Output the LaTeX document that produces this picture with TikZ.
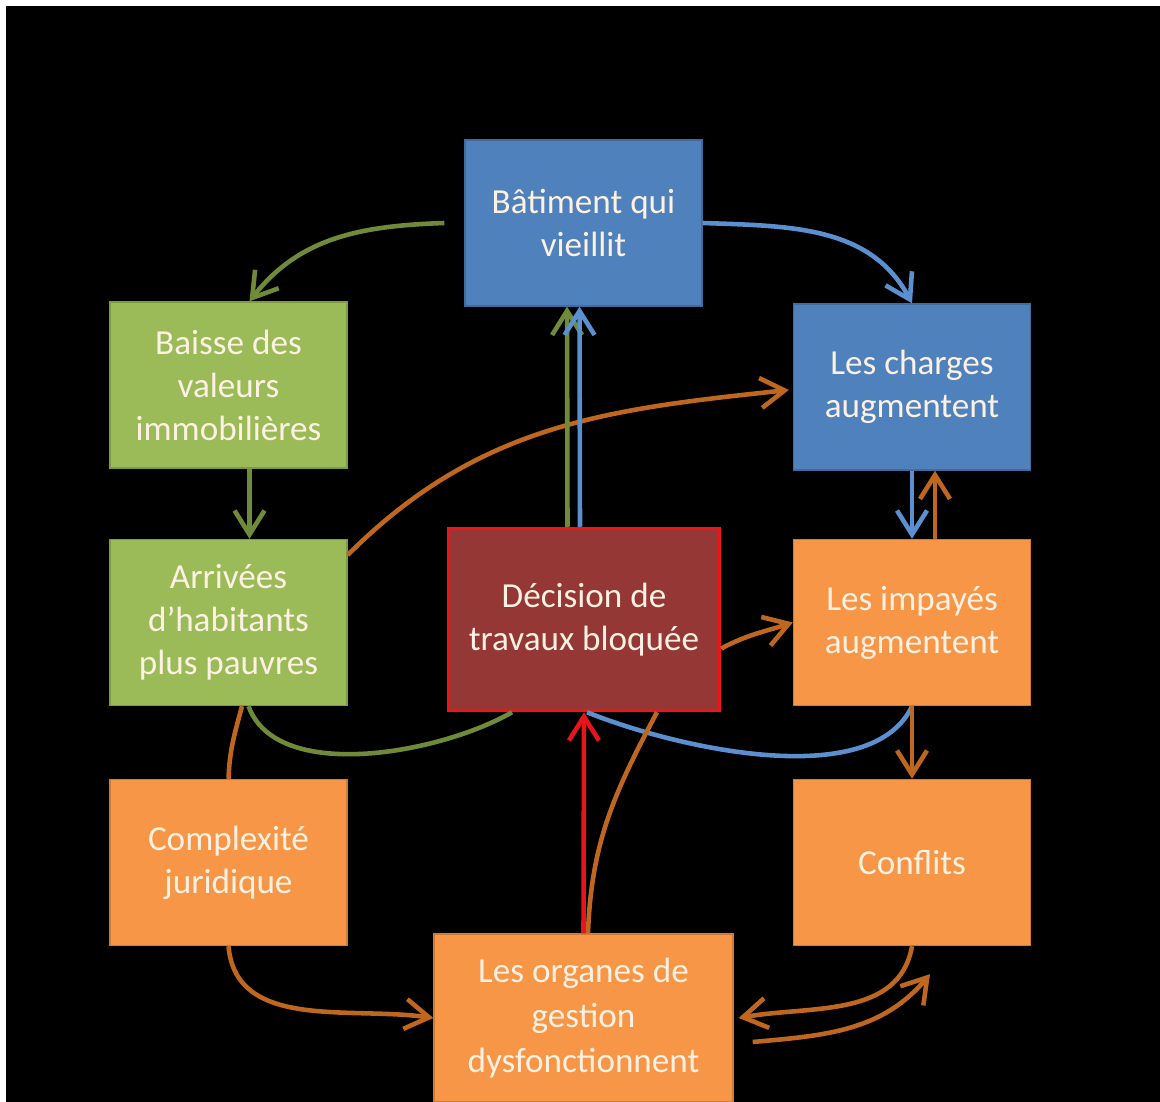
\documentclass[tikz,border=0pt]{standalone}
\usepackage{fontspec}
\setmainfont{Carlito}
\usepackage{tikz}
\usetikzlibrary{arrows.meta, positioning}
\usepackage{xcolor}

\definecolor{fillblue}{HTML}{4F81BD}
\definecolor{edgeblue}{HTML}{3F6B9E}
\definecolor{fillgreen}{HTML}{9BBB59}
\definecolor{edgegreen}{HTML}{7D9A45}
\definecolor{fillorange}{HTML}{F79646}
\definecolor{edgeorange}{HTML}{D07A36}
\definecolor{fillred}{HTML}{953735}
\definecolor{edgered}{HTML}{F01418}
\definecolor{boxtext}{HTML}{FCF1E2}
\definecolor{lgreen}{HTML}{6F8B3A}
\definecolor{lblue}{HTML}{5A8FD0}
\definecolor{lorange}{HTML}{BF661F}
\definecolor{lred}{HTML}{E8141C}

\begin{document}
\begin{tikzpicture}[
      x=0.02cm, y=0.02cm,
      box/.style={draw, line width=0.8pt, align=center, text=boxtext, inner sep=0pt,
        font=\fontsize{20}{24.5}\selectfont, minimum width=4.74cm, minimum height=3.32cm},
      link/.style={line width=2.6pt, -{Straight Barb[length=4.8mm, width=6mm]}},
      plain/.style={line width=2.6pt}
    ]

    % Background
    \fill[white] (0,0) rectangle (1160,1102);
    \fill[black] (6,0) rectangle (1160,1096);
    \useasboundingbox (0,0) rectangle (1160,1102);

    % Nodes
    \node[box, fill=fillblue, draw=edgeblue] (batiment) at (583.5,879) {Bâtiment qui\\vieillit};

    \node[box, fill=fillblue, draw=edgeblue] (charges) at (912,715) {Les charges\\augmentent};

    \node[box, fill=fillgreen, draw=edgegreen] (baisse) at (228.5,717) {Baisse des\\valeurs\\immobilières};

    \node[box, fill=fillgreen, draw=edgegreen] (arrivees) at (228.5,479.5) {Arrivées\\d’habitants\\plus pauvres};

    \node[box, fill=fillred, draw=edgered, line width=2pt, minimum width=5.42cm, minimum height=3.64cm] (decision) at (584,482.5) {Décision de\\travaux bloquée};

    \node[box, fill=fillorange, draw=edgeorange] (impayes) at (912,479.5) {Les impayés\\augmentent};

    \node[box, fill=fillorange, draw=edgeorange] (complexite) at (228.5,239.5) {Complexité\\juridique};

    \node[box, fill=fillorange, draw=edgeorange] (conflits) at (912,239.5) {Conflits};

    \node[box, fill=fillorange, draw=edgeorange, minimum width=5.98cm, minimum height=3.36cm, font=\fontsize{20}{25.5}\selectfont] (organes) at (583.5,84) {Les organes de\\gestion\\dysfonctionnent};

    % Arrows

    \draw[link, lgreen] ([xshift=-0.4cm]batiment.west) to[out=182, in=52] ([xshift=0.42cm]baisse.north);
    \draw[link, lblue] (batiment.east) to[out=-2, in=118] (charges.north);

    \draw[link, lgreen] ([xshift=0.42cm]baisse.south) -- ([xshift=0.42cm]arrivees.north);
    \draw[link, lorange] ([yshift=1.35cm]arrivees.east) to[out=45, in=186] ([xshift=-0.08cm, yshift=-0.06cm]charges.west);

    \draw[link, lgreen] ([xshift=-0.33cm]decision.north) -- ([xshift=-0.33cm]batiment.south);
    \draw[link, lblue] ([xshift=-0.08cm]decision.north) -- ([xshift=-0.08cm]batiment.south);

    \draw[link, lblue] (charges.south) -- (impayes.north);
    \draw[link, lorange] ([xshift=0.46cm]impayes.north) -- ([xshift=0.46cm]charges.south);

    \draw[link, lorange] ([yshift=-0.58cm]decision.east) to[out=28, in=198] (impayes.west);

    \draw[plain, lgreen] ([xshift=0.4cm]arrivees.south) to[out=-70, in=-150, looseness=0.8] ([xshift=-1.44cm]decision.south);
    \draw[plain, lorange] (complexite.north) to[out=88, in=-105] ([xshift=0.27cm]arrivees.south);
    \draw[plain, lblue] (impayes.south) to[out=-115, in=-22, looseness=0.75] ([xshift=0.06cm]decision.south);

    \draw[link, lorange] (impayes.south) -- (conflits.north);

    \draw[link, lred] (organes.north) -- (decision.south);
    \draw[plain, lorange] ([xshift=0.09cm]organes.north) to[out=88, in=-118] ([xshift=1.46cm]decision.south);

    \draw[link, lorange] (complexite.south) to[out=-85, in=172] (organes.west);
    \draw[link, lorange] (conflits.south) to[out=-100, in=10] ([xshift=0.1cm]organes.east);
    \draw[link, lorange] ([xshift=0.38cm, yshift=-0.48cm]organes.east) to[out=5, in=-130] ([xshift=0.36cm, yshift=-0.56cm]conflits.south);

  \end{tikzpicture}
\end{document}
